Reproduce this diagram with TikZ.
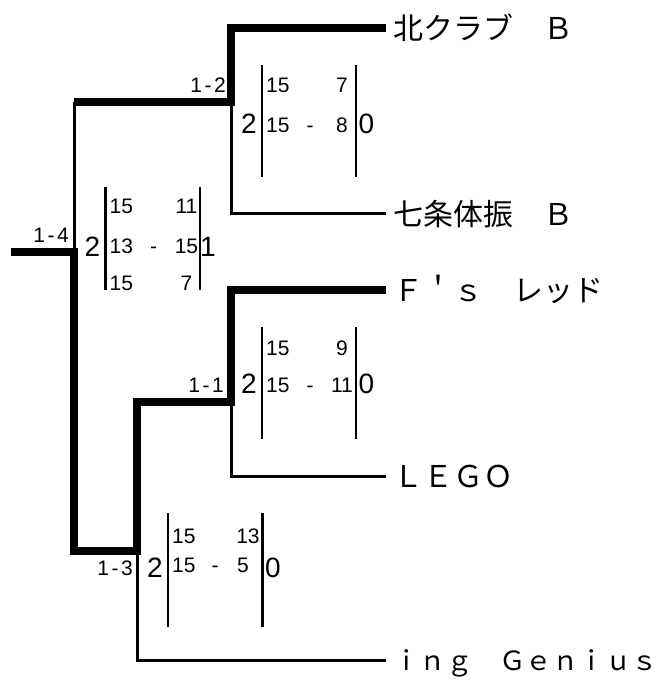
\documentclass[tikz,border=0pt]{standalone}
\usepackage{fontspec}
\setmainfont{Liberation Sans}
\newfontfamily\jp{Noto Sans CJK JP}
\newfontfamily\lblfont[LetterSpace=12]{Liberation Sans}
\tikzset{
  winline/.style={line width=7.5pt, line join=miter},
  loseline/.style={line width=3pt, line join=miter},
  tolabel/.style={shorten >=7pt},
  bar/.style={line width=2.5pt},
  small/.style={font=\fontsize{21}{21}\selectfont, inner sep=0pt},
  big/.style={font=\fontsize{28}{28}\selectfont, inner sep=0pt},
  lbl/.style={font=\lblfont\fontsize{21}{21}\selectfont, inner sep=0pt, anchor=base east},
  team/.style={font=\jp\fontsize{30}{30}\selectfont, inner sep=0pt, anchor=base west},
  teamsmall/.style={team, font=\jp\fontsize{26.5}{26.5}\selectfont},
}
\begin{document}
\begin{tikzpicture}[x=1pt,y=-1pt]
\useasboundingbox (0,0) rectangle (660,680);

% team names
\node[team] (t1) at (393,39) {北クラブ　Ｂ};
\node[team] (t2) at (393,225) {七条体振　Ｂ};
\node[team] (t3) at (393,301) {Ｆ＇ｓ　レッド};
\node[team] (t4) at (393,487) {ＬＥＧＯ};
\node[teamsmall] (t5) at (393,670) {ｉｎｇ　Ｇｅｎｉｕｓ};

% junction coordinates
\coordinate (root) at (11,252);
\coordinate (j14) at (74,252);
\coordinate (a14) at (74,102);
\coordinate (b14) at (74,551);
\coordinate (j12) at (231,102);
\coordinate (c1) at (231,28);
\coordinate (c2) at (231,213);
\coordinate (j13) at (137,551);
\coordinate (c5) at (137,660);
\coordinate (a11) at (137,402);
\coordinate (j11) at (231,402);
\coordinate (c3) at (231,290);
\coordinate (c4) at (231,476);

% winners' path (thick)
\draw[winline, tolabel] (a14) -- (j12) -- (c1) -- (c1 -| t1.west);
\draw[winline, tolabel] (root) -- (j14) -- (b14) -- (j13) -- (a11) -- (j11) -- (c3) -- (c3 -| t3.west);
% other lines (thin)
\draw[loseline] (j14) -- (a14);
\draw[loseline, tolabel] (j12) -- (c2) -- (c2 -| t2.west);
\draw[loseline, tolabel] (j11) -- (c4) -- (c4 -| t4.west);
\draw[loseline, tolabel] (j13) -- (c5) -- (c5 -| t5.west);

% ---- match 1-2
\draw[bar] (262,65) -- (262,177);
\draw[bar] (356,65) -- (356,177);
\node[lbl] (l12) at (226,92) {1-2};
\node[big, anchor=base east] (g12a) at (257,133) {2};
\node[big, anchor=base west] (g12b) at (358.5,133) {0};
\node[small, anchor=base west] (s12a) at (266,92) {15};
\node[small, anchor=base] (s12b) at (342,92) {7};
\node[small, anchor=base west] (s12c) at (266,132) {15};
\node[small, anchor=base] (s12d) at (310,132) {-};
\node[small, anchor=base] (s12e) at (342,132) {8};

% ---- match 1-1
\draw[bar] (262,327) -- (262,439);
\draw[bar] (356,327) -- (356,439);
\node[lbl] (l11) at (224,392) {1-1};
\node[big, anchor=base east] (g11a) at (257,393) {2};
\node[big, anchor=base west] (g11b) at (358.5,393) {0};
\node[small, anchor=base west] (s11a) at (266,355) {15};
\node[small, anchor=base] (s11b) at (342,355) {9};
\node[small, anchor=base west] (s11c) at (266,392) {15};
\node[small, anchor=base] (s11d) at (310,392) {-};
\node[small, anchor=base] (s11e) at (342,392) {11};

% ---- match 1-4
\draw[bar] (105.5,187) -- (105.5,290);
\draw[bar] (200,187) -- (200,290);
\node[lbl] (l14) at (69,242) {1-4};
\node[big, anchor=base east] (g14a) at (100.5,256) {2};
\node[big, anchor=base west] (g14b) at (200,256) {1};
\node[small, anchor=base west] (s14a) at (109.5,213) {15};
\node[small, anchor=base] (s14b) at (186.5,213) {11};
\node[small, anchor=base west] (s14c) at (109.5,253) {13};
\node[small, anchor=base] (s14d) at (153.5,253) {-};
\node[small, anchor=base] (s14e) at (186.5,253) {15};
\node[small, anchor=base west] (s14f) at (109.5,290) {15};
\node[small, anchor=base] (s14g) at (186.5,290) {7};

% ---- match 1-3
\draw[bar] (168,513) -- (168,627);
\draw[bar] (262.5,513) -- (262.5,627);
\node[lbl] (l13) at (133,575) {1-3};
\node[big, anchor=base east] (g13a) at (163,577) {2};
\node[big, anchor=base west] (g13b) at (265,577) {0};
\node[small, anchor=base west] (s13a) at (172,543) {15};
\node[small, anchor=base] (s13b) at (248,543) {13};
\node[small, anchor=base west] (s13c) at (172,572) {15};
\node[small, anchor=base] (s13d) at (215,572) {-};
\node[small, anchor=base] (s13e) at (243,572) {5};
\end{tikzpicture}
\end{document}
